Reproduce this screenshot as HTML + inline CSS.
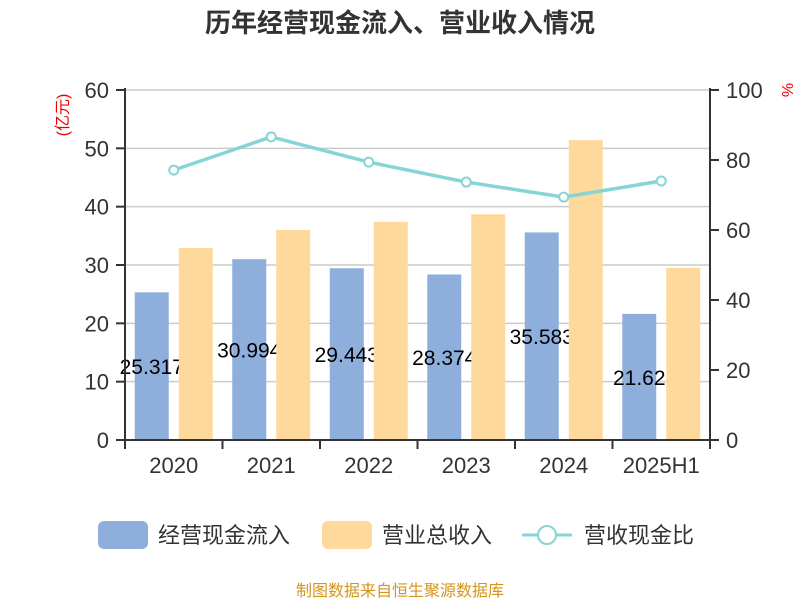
<!DOCTYPE html>
<html><head><meta charset="utf-8"><style>
body{margin:0;background:#fff;width:800px;height:600px;overflow:hidden}
text{font-family:"Liberation Sans","Noto Sans CJK SC",sans-serif}
</style></head><body>
<svg id="c" width="800" height="600">
<text x="400" y="32" text-anchor="middle" font-size="26" font-weight="bold" fill="#333">历年经营现金流入、营业收入情况</text>
<text transform="translate(68,115) rotate(-90)" text-anchor="middle" font-size="16" fill="#e00">(亿元)</text>
<text transform="translate(782,90) rotate(90)" text-anchor="middle" font-size="16" fill="#e00">%</text>
<g id="grid"></g><g id="bars1"></g><g id="labels"></g><g id="bars2"></g><g id="axes"></g><g id="line"></g>
<g>
<rect x="98" y="521" width="50" height="28" rx="6" fill="#8eaedb"/>
<text x="158" y="543" font-size="22" fill="#333">经营现金流入</text>
<rect x="322" y="521" width="50" height="28" rx="6" fill="#fed99b"/>
<text x="382" y="543" font-size="22" fill="#333">营业总收入</text>
<line x1="522" y1="535" x2="572" y2="535" stroke="#86d4d6" stroke-width="3"/>
<circle cx="547" cy="535" r="9" fill="#fff" stroke="#86d4d6" stroke-width="2"/>
<text x="584" y="543" font-size="22" fill="#333">营收现金比</text>
</g>
<text x="400" y="596" text-anchor="middle" font-size="16" fill="#d4951b">制图数据来自恒生聚源数据库</text>
</svg>
<script>
const categories=["2020","2021","2022","2023","2024","2025H1"];
const cashInflow=[25.317,30.994,29.443,28.374,35.583,21.62];
const revenue=[32.9,36.0,37.4,38.7,51.4,29.5];
const ratio=[77.1,86.6,79.4,73.7,69.4,74.0];
const leftTicks=[0,10,20,30,40,50,60];
const rightTicks=[0,20,40,60,80,100];
const NS="http://www.w3.org/2000/svg";
const X0=125,X1=710,Y0=440,Y1=90;
const band=(X1-X0)/categories.length;
const yL=v=>Y0-(v/60)*(Y0-Y1);
const yR=v=>Y0-(v/100)*(Y0-Y1);
const xc=i=>X0+band*(i+0.5);
function mk(tag,attrs,parent,txt){const e=document.createElementNS(NS,tag);for(const k in attrs)e.setAttribute(k,attrs[k]);if(txt!==undefined)e.textContent=txt;document.getElementById(parent).appendChild(e);return e;}
leftTicks.forEach(t=>{
 const g=mk('line',{x1:X0,x2:X1,y1:yL(t),y2:yL(t),stroke:'#ccc','stroke-width':1.5},'grid');
 
 
 const tk=mk('line',{x1:X0-9,x2:X0,y1:yL(t),y2:yL(t),stroke:'#333','stroke-width':2},'axes');
 
 
 const l=mk('text',{x:X0-16,y:yL(t)+8,'text-anchor':'end','font-size':22,fill:'#333'},'axes',t);
 
 
});
rightTicks.forEach(t=>{
 const tk=mk('line',{x1:X1,x2:X1+9,y1:yR(t),y2:yR(t),stroke:'#333','stroke-width':2},'axes');
 
 
 const l=mk('text',{x:X1+16,y:yR(t)+8,'font-size':22,fill:'#333'},'axes',t);
 
 
});
const ax=[[X0,Y1-2,X0,Y0],[X1,Y1-2,X1,Y0],[X0,Y0,X1,Y0]];
ax.forEach(a=>{const l=mk('line',{x1:a[0],y1:a[1],x2:a[2],y2:a[3],stroke:'#333','stroke-width':2},'axes');
 
 });
for(let i=0;i<=categories.length;i++){
 const l=mk('line',{x1:X0+band*i,x2:X0+band*i,y1:Y0,y2:Y0+9,stroke:'#333','stroke-width':2},'axes');
 
 
}
const bw=34;
categories.forEach((c,i)=>{
 const cx=xc(i);
 const b=mk('rect',{x:cx-bw-5,y:yL(cashInflow[i]),width:bw,height:Y0-yL(cashInflow[i]),fill:'#8eaedb'},'bars1');
 
 
 const t=mk('text',{x:cx-5-bw/2,y:(yL(cashInflow[i])+Y0)/2+8,'text-anchor':'middle','font-size':21,fill:'#000'},'labels',cashInflow[i]);
 
 
 const r=mk('rect',{x:cx+5,y:yL(revenue[i]),width:bw,height:Y0-yL(revenue[i]),fill:'#fed99b'},'bars2');
 
 
 const xl=mk('text',{x:cx,y:Y0+33,'text-anchor':'middle','font-size':22,fill:'#333'},'axes',c);
 
 
});
const pts=ratio.map((v,i)=>[xc(i),yR(v)]);
const pl=mk('polyline',{points:pts.map(p=>p.join(',')).join(' '),fill:'none',stroke:'#86d4d6','stroke-width':3.5},'line');


pts.forEach((p,i)=>{const c=mk('circle',{cx:p[0],cy:p[1],r:4.5,fill:'#fff',stroke:'#86d4d6','stroke-width':2},'line');
 
 });
</script>
</body></html>
